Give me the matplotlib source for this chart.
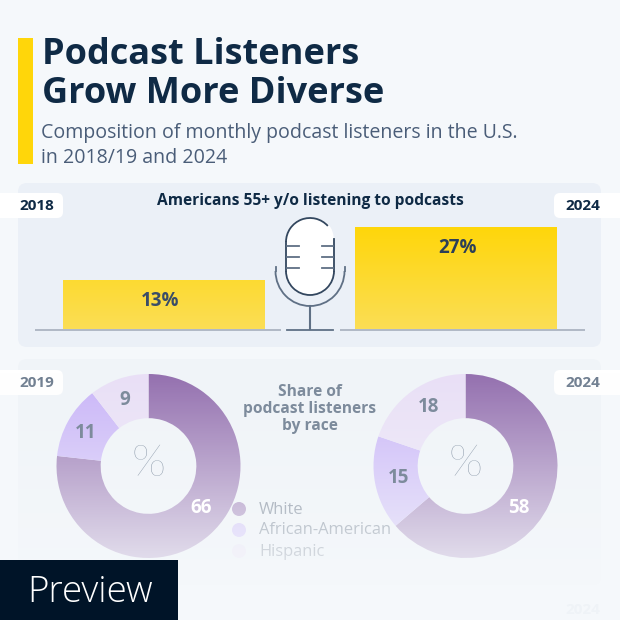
import numpy as np
import matplotlib
matplotlib.use('Agg')
import matplotlib.pyplot as plt
from matplotlib.patches import FancyBboxPatch, Circle, Rectangle, Arc

# Data
bar_years = ['2018', '2024']
bar_values = [13, 27]
race_labels = ['White', 'African-American', 'Hispanic']
race_2019 = [66, 11, 9]
race_2024 = [58, 15, 18]

# where the donut numbers sit, in pixels
label_pos_2019 = [(201, 508), (86, 433), (125, 400)]
label_pos_2024 = [(519, 508), (399, 478), (429, 407)]

NAVY = '#0f2a45'
BG = '#f5f8fb'
YELLOW = '#ffd60a'
race_colors = ['#9470af', '#c9b4f8', '#e9dff6']
label_colors = ['#ffffff', '#7d8b9c', '#7d8b9c']

plt.rcParams['font.family'] = ['Open Sans', 'DejaVu Sans']

fig = plt.figure(figsize=(6.2, 6.2), dpi=100, facecolor=BG)


def px_axes(x0, y0, x1, y1, zorder):
    # axes from a box given in image pixels (y going down)
    ax = fig.add_axes([x0/620, 1-y1/620, (x1-x0)/620, (y1-y0)/620], zorder=zorder)
    ax.patch.set_alpha(0)
    return ax


def round_box(ax, x0, y0, x1, y1, r, color):
    ax.add_patch(FancyBboxPatch((x0+r, y0+r), x1-x0-2*r, y1-y0-2*r,
                                boxstyle='round,pad=%d,rounding_size=%d' % (r, r),
                                fc=color, ec='none'))


# page layer, all in pixel coordinates
bg = px_axes(0, 0, 620, 620, 0)
bg.set_xlim(0, 620)
bg.set_ylim(620, 0)
bg.axis('off')

bg.add_patch(Rectangle((18, 38), 15, 126, fc=YELLOW, ec='none'))
bg.text(41.5, 55, 'Podcast Listeners', fontsize=26, fontweight='bold', color=NAVY, va='center')
bg.text(41.5, 94, 'Grow More Diverse', fontsize=26, fontweight='bold', color=NAVY, va='center')
bg.text(41, 133, 'Composition of monthly podcast listeners in the U.S.', fontsize=14.05, color='#4a5d78', va='center')
bg.text(41, 158, 'in 2018/19 and 2024', fontsize=14.05, color='#4a5d78', va='center')

round_box(bg, 18, 183, 601, 347, 9, '#ebf0f7')
round_box(bg, 18, 359, 601, 585, 9, '#f0f4f8')

for x0, x1, tx, y, year, col in [(-10, 63, 19, 206, '2018', NAVY), (554, 630, 565, 206, '2024', NAVY),
                                 (-10, 63, 19, 383, '2019', '#6d7c8e'), (554, 630, 565, 383, '2024', '#6d7c8e')]:
    round_box(bg, x0, y-13, x1, y+12, 6, '#ffffff')
    bg.text(tx, y, year, fontsize=11, fontweight='bold', color=col, va='center')

# baseline and microphone
for x0, x1 in [(35, 281), (340, 585)]:
    bg.plot([x0, x1], [329.5, 329.5], color='#a6aebd', lw=1.2, solid_capstyle='butt')
MIC = '#33475f'
MIC2 = '#5f7085'
round_box(bg, 286, 218, 334, 295, 24, '#ffffff')
# outline left open at the top right
bg.add_patch(Arc((310, 242), 48, 48, theta1=180, theta2=318, ec=MIC, lw=1.3))
bg.add_patch(Arc((310, 271), 48, 48, theta1=0, theta2=180, ec=MIC, lw=1.3))
bg.plot([286, 286], [242, 271], color=MIC, lw=1.3)
bg.plot([334, 334], [239, 271], color=MIC, lw=1.3)
for y in [246, 257, 268]:
    bg.plot([287, 299], [y, y], color=MIC2, lw=1.3, zorder=4)
    bg.plot([322, 333], [y, y], color=MIC2, lw=1.3, zorder=4)
bg.plot([275.5, 275.5], [267, 271], color=MIC2, lw=1.3)
bg.plot([344.5, 344.5], [267, 271], color=MIC2, lw=1.3)
bg.add_patch(Arc((310, 271), 69, 70, theta1=0, theta2=180, ec=MIC2, lw=1.3))
bg.plot([310, 310], [306, 329], color=MIC2, lw=1.5)
bg.plot([287, 333], [329.5, 329.5], color=MIC2, lw=1.3)

# legend dots and labels sit under the fade
for y, name, col in zip([509, 530, 551], race_labels, race_colors):
    bg.add_patch(Circle((239, y), 7, fc=col, ec='none'))
    bg.text(259, y+0.5, name, fontsize=11.9, color='#5c6a7c', va='center')

# bars with vertical yellow gradient
ax = px_axes(0, 200, 620, 329, 1)
ax.axis('off')
bars = ax.bar([0, 1], bar_values, width=202/292, color='none')
ramp = np.linspace(0, 1, 100)[:, None, None] * (np.array([0xfb, 0xde, 0x55]) - np.array([0xff, 0xd6, 0x0a])) + np.array([0xff, 0xd6, 0x0a])
for b, v in zip(bars, bar_values):
    im = ax.imshow(ramp/255, extent=[-1, 2, 0, 27], aspect='auto', zorder=1)
    im.set_clip_path(b)
ax.text(-4/292, 13-5.5, '13%', ha='center', va='center', zorder=3, fontsize=13.5, fontweight='bold', color='#3a4d68')
ax.text(2/292+1, 27-5.5, '27%', ha='center', va='center', zorder=3, fontsize=13.5, fontweight='bold', color='#2c3f58')
ax.set_xlim(-164/292, 456/292)
ax.set_ylim(0, 129/3.78)


def donut(values, x0, x1):
    a = px_axes(x0, 374, x1, 558, 1)
    a.pie(values, colors=race_colors, startangle=90, counterclock=False, radius=1,
          wedgeprops=dict(width=0.48, linewidth=0))
    a.set_xlim(-1, 1)
    a.set_ylim(-1, 1)
    return a


donut(race_2019, 56, 241)
donut(race_2024, 373, 558)

# fade towards the bottom of the picture
fade = px_axes(0, 0, 620, 620, 2)
fade.axis('off')
alpha = np.clip((np.arange(620)-372)/186*0.8, 0, 0.97)
rgba = np.ones((620, 1, 4))
rgba[:, 0, :3] = matplotlib.colors.to_rgb(BG)
rgba[:, 0, 3] = alpha
fade.imshow(rgba, extent=[0, 620, 620, 0], aspect='auto')
fade.set_xlim(0, 620)
fade.set_ylim(620, 0)

# top text layer
top = px_axes(0, 0, 620, 620, 3)
top.set_xlim(0, 620)
top.set_ylim(620, 0)
top.axis('off')
top.text(310, 201, 'Americans 55+ y/o listening to podcasts', fontsize=11.2, fontweight='bold',
         color=NAVY, ha='center', va='center')
top.text(310, 409, 'Share of\npodcast listeners\nby race', fontsize=11.2, fontweight='bold',
         color='#7d8b9c', ha='center', va='center', linespacing=1.12)
for cx in [148, 465]:
    top.text(cx, 465, '%', fontsize=32, family=['Lato', 'Open Sans'], fontweight='light',
             color='#8a98a8', ha='center', va='center')

for positions, vals in [(label_pos_2019, race_2019), (label_pos_2024, race_2024)]:
    for (lx, ly), v, col in zip(positions, vals, label_colors):
        top.text(lx, ly, str(v), fontsize=13.5, fontweight='bold', color=col, ha='center', va='center')

# ghost of the next panel and the preview tag
top.text(565, 610, '2024', fontsize=11, fontweight='bold', color='#eff3f7', va='center')
top.add_patch(Rectangle((0, 560), 178, 60, fc='#001428', ec='none'))
top.text(27, 592, 'Preview', fontsize=26.5, fontweight='light', color='white', va='center')

fig.savefig('out.png', dpi=100, facecolor=BG)
